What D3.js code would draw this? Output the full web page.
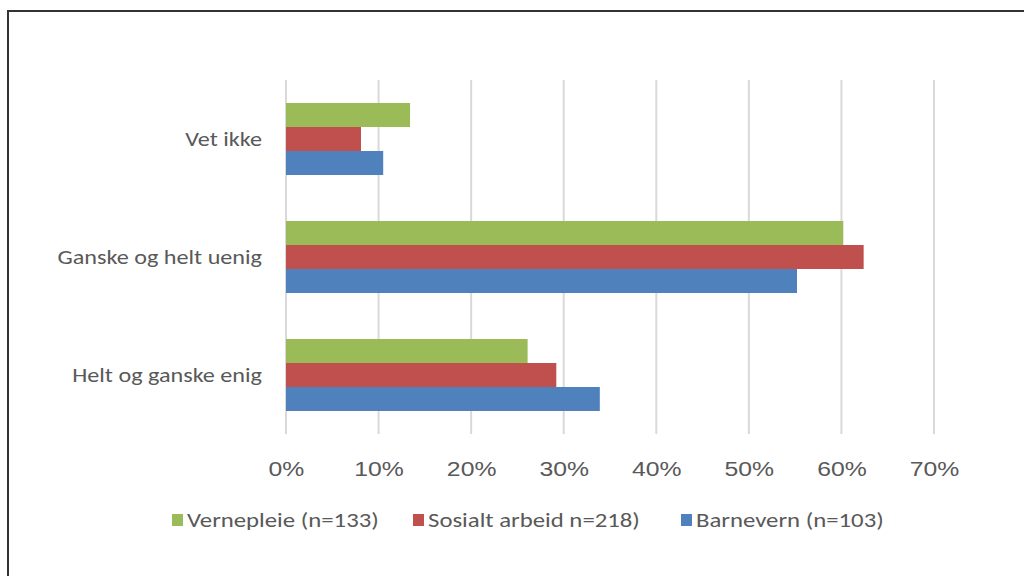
<!DOCTYPE html>
<html>
<head>
<meta charset="utf-8">
<script src="https://cdn.jsdelivr.net/npm/d3@7"></script>
<style>
  body { margin: 0; background: #fff; }
  svg { display: block; }
</style>
</head>
<body>
<svg width="1024" height="576"></svg>
<script>
// categories top to bottom
var categories = ['Vet ikke', 'Ganske og helt uenig', 'Helt og ganske enig']
var seriesNames = ['Vernepleie (n=133)', 'Sosialt arbeid n=218)', 'Barnevern (n=103)']
var seriesColors = ['#9bbb59', '#c0504d', '#4f81bd']
// values per series, same order as categories
var vernepleie = [0.134, 0.602, 0.261]
var sosialt = [0.081, 0.624, 0.292]
var barnevern = [0.105, 0.552, 0.339]
var tickValues = [0, 0.1, 0.2, 0.3, 0.4, 0.5, 0.6, 0.7]

var seriesValues = [vernepleie, sosialt, barnevern]

// the original picture is stretched sideways a bit, text too
var stretch = 1.18

var svg = d3.select('svg')

// outer frame (left + top only, like the cropped screenshot)
svg.append('path')
    .attr('d', 'M8,576 L8,11 L1024,11')
    .attr('fill', 'none')
    .attr('stroke', '#333')
    .attr('stroke-width', 2)

var x = d3.scaleLinear().domain([0, 0.7]).range([286, 934])
var y = d3.scaleBand().domain(categories).range([80, 434]).paddingInner(0.39).paddingOuter(0.195)
var ySub = d3.scaleBand().domain(d3.range(seriesNames.length)).range([0, y.bandwidth()])

// gridlines
svg.append('g').selectAll('line')
    .data(tickValues)
    .enter().append('line')
    .attr('x1', function (d) { return x(d) })
    .attr('x2', function (d) { return x(d) })
    .attr('y1', 80)
    .attr('y2', 434)
    .attr('stroke', '#d9d9d9')
    .attr('stroke-width', 2)

// bars
var groups = svg.append('g').selectAll('g')
    .data(categories)
    .enter().append('g')
    .attr('transform', function (d) { return 'translate(0,' + y(d) + ')' })

groups.selectAll('rect')
    .data(function (d, i) {
        return seriesValues.map(function (vals, s) { return { s: s, v: vals[i] } })
    })
    .enter().append('rect')
    .attr('x', x(0))
    .attr('y', function (d) { return ySub(d.s) })
    .attr('width', function (d) { return x(d.v) - x(0) })
    .attr('height', ySub.bandwidth())
    .attr('fill', function (d) { return seriesColors[d.s] })

// category labels
svg.append('g').selectAll('text')
    .data(categories)
    .enter().append('text')
    .attr('transform', function (d) {
        return 'translate(262,' + (y(d) + y.bandwidth() / 2) + ') scale(' + stretch + ',1)'
    })
    .attr('dy', '0.35em')
    .attr('text-anchor', 'end')
    .attr('font-family', 'Carlito, "Liberation Sans Narrow", "Liberation Sans", sans-serif')
    .attr('font-size', 20.5)
    .attr('fill', '#595959')
    .text(function (d) { return d })

// x axis tick labels
var xAxis = d3.axisBottom(x)
    .tickValues(tickValues)
    .tickFormat(d3.format('.0%'))
    .tickSize(0)
svg.append('g')
    .attr('transform', 'translate(0,458)')
    .call(xAxis)
    .call(function (g) { g.select('.domain').remove() })
    .call(function (g) {
        g.selectAll('.tick text')
            .attr('transform', 'scale(' + stretch + ',1)')
            .attr('font-family', '"Liberation Sans", Arial, sans-serif')
            .attr('font-size', 21)
            .attr('fill', '#595959')
    })

// legend
var legendX = [172, 413, 681]
var legend = svg.append('g').selectAll('g')
    .data(seriesNames)
    .enter().append('g')
    .attr('transform', function (d, i) { return 'translate(' + legendX[i] + ',514)' })
legend.append('rect')
    .attr('width', 11)
    .attr('height', 12)
    .attr('fill', function (d, i) { return seriesColors[i] })
legend.append('text')
    .attr('transform', 'translate(15,6) scale(' + stretch + ',1)')
    .attr('dy', '0.35em')
    .attr('font-family', 'Carlito, "Liberation Sans Narrow", "Liberation Sans", sans-serif')
    .attr('font-size', 21)
    .attr('fill', '#595959')
    .text(function (d) { return d })
</script>
</body>
</html>
